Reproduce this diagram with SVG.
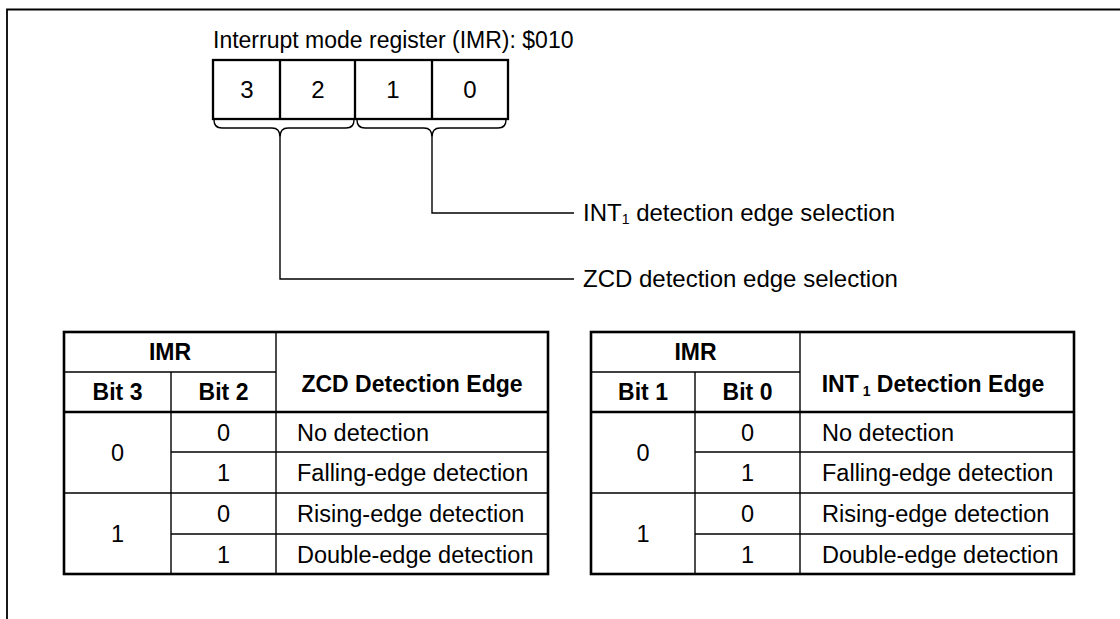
<svg xmlns="http://www.w3.org/2000/svg" width="1120" height="619" viewBox="0 0 1120 619">
<style>
text{font-family:"Liberation Sans",Arial,sans-serif;fill:#000}
.t{font-size:23px}
.d{font-size:23.5px}
.l{font-size:24px}
.c{text-anchor:middle}
.b{font-weight:bold;font-size:23px}
.thin{stroke:#000;stroke-width:1.4;fill:none}
.thick{stroke:#000;stroke-width:2.6;fill:none}
.reg{stroke:#000;stroke-width:2.3;fill:none}
</style>
<rect width="1120" height="619" fill="#fff"/>
<path d="M7,619 V9.5 H1120" stroke="#000" stroke-width="1.8" fill="none"/>

<g id="register">
<text x="213" y="48" class="t">Interrupt mode register (IMR):  $010</text>
<rect x="213" y="60" width="295" height="59" class="reg"/>
<line x1="280" y1="60" x2="280" y2="119" class="reg"/>
<line x1="355" y1="60" x2="355" y2="119" class="reg"/>
<line x1="432" y1="60" x2="432" y2="119" class="reg"/>
<text x="247" y="98" class="l c">3</text>
<text x="318" y="98" class="l c">2</text>
<text x="393" y="98" class="l c">1</text>
<text x="470" y="98" class="l c">0</text>
</g>

<g id="connectors">
<path d="M214,120 Q214,128 222,128 H272 Q280,128 280,137 Q280,128 288,128 H346 Q354,128 354,120" class="thin"/>
<path d="M357,120 Q357,128 365,128 H424 Q432,128 432,137 Q432,128 440,128 H498 Q506,128 506,120" class="thin"/>
<path d="M280,137 V279 H574" class="thin"/>
<path d="M432,137 V213 H574" class="thin"/>
</g>

<g id="label-int1">
<text x="583" y="221" class="l">INT<tspan font-size="14" dy="3">1</tspan><tspan dy="-3"> detection edge selection</tspan></text>
</g>
<g id="label-zcd">
<text x="583" y="287" class="l">ZCD detection edge selection</text>
</g>

<g id="table-zcd">
<rect x="64" y="332" width="484" height="242" class="thick"/>
<line x1="64" y1="412" x2="548" y2="412" class="thick" stroke-width="2.8"/>
<line x1="64" y1="372" x2="276" y2="372" class="thin"/>
<line x1="276" y1="332" x2="276" y2="574" class="thin"/>
<line x1="171" y1="372" x2="171" y2="574" class="thin"/>
<line x1="171" y1="452" x2="548" y2="452" class="thin"/>
<line x1="64" y1="493" x2="548" y2="493" class="thin"/>
<line x1="171" y1="534" x2="548" y2="534" class="thin"/>
<text x="170" y="360" class="b c">IMR</text>
<text x="117.5" y="400" class="b c">Bit 3</text>
<text x="223.5" y="400" class="b c">Bit 2</text>
<text x="412" y="392" class="b c">ZCD Detection Edge</text>
<text x="117.5" y="461" class="d c">0</text>
<text x="117.5" y="542" class="d c">1</text>
<text x="223.5" y="441" class="d c">0</text>
<text x="223.5" y="481" class="d c">1</text>
<text x="223.5" y="522" class="d c">0</text>
<text x="223.5" y="563" class="d c">1</text>
<text x="297" y="441" class="d">No detection</text>
<text x="297" y="481" class="d">Falling-edge detection</text>
<text x="297" y="522" class="d">Rising-edge detection</text>
<text x="297" y="563" class="d">Double-edge detection</text>
</g>

<g id="table-int1">
<rect x="591" y="332" width="483" height="242" class="thick"/>
<line x1="591" y1="412" x2="1074" y2="412" class="thick" stroke-width="2.8"/>
<line x1="591" y1="372" x2="800" y2="372" class="thin"/>
<line x1="800" y1="332" x2="800" y2="574" class="thin"/>
<line x1="695" y1="372" x2="695" y2="574" class="thin"/>
<line x1="695" y1="452" x2="1074" y2="452" class="thin"/>
<line x1="591" y1="493" x2="1074" y2="493" class="thin"/>
<line x1="695" y1="534" x2="1074" y2="534" class="thin"/>
<text x="695.5" y="360" class="b c">IMR</text>
<text x="643" y="400" class="b c">Bit 1</text>
<text x="747.5" y="400" class="b c">Bit 0</text>
<text x="933" y="392" class="b c">INT<tspan font-size="14" dy="4"> 1</tspan><tspan dy="-4"> Detection Edge</tspan></text>
<text x="643" y="461" class="d c">0</text>
<text x="643" y="542" class="d c">1</text>
<text x="747.5" y="441" class="d c">0</text>
<text x="747.5" y="481" class="d c">1</text>
<text x="747.5" y="522" class="d c">0</text>
<text x="747.5" y="563" class="d c">1</text>
<text x="822" y="441" class="d">No detection</text>
<text x="822" y="481" class="d">Falling-edge detection</text>
<text x="822" y="522" class="d">Rising-edge detection</text>
<text x="822" y="563" class="d">Double-edge detection</text>
</g>
</svg>
